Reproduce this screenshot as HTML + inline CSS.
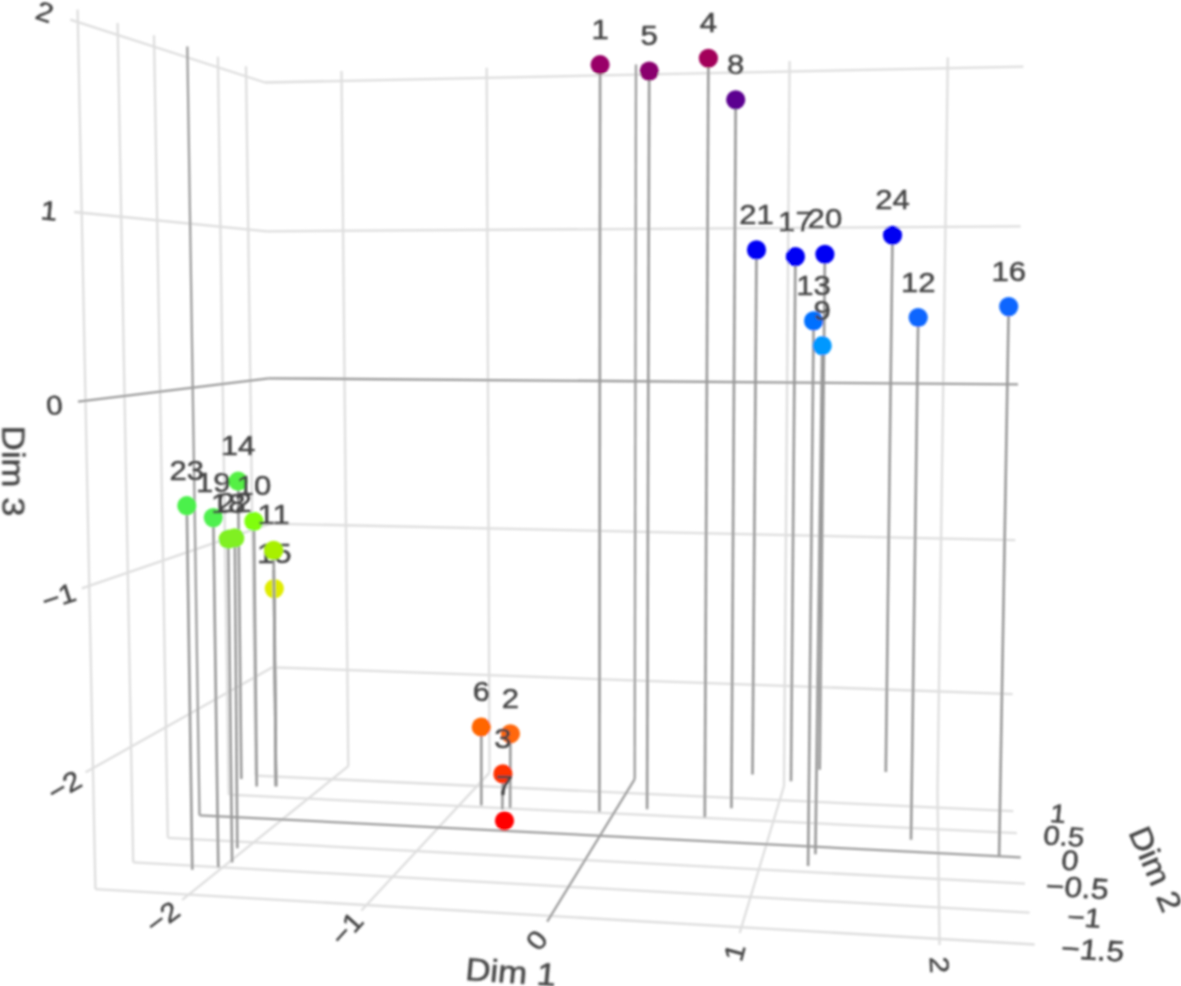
<!DOCTYPE html>
<html><head><meta charset="utf-8"><style>
html,body{margin:0;padding:0;background:#fff;overflow:hidden;}
svg{display:block;}
.g{stroke:#dedede;stroke-width:2.3;}
.z{stroke:#9c9c9c;stroke-width:2.3;}
.s{stroke:#999999;stroke-width:2.6;}
text{font-family:"Liberation Sans",sans-serif;fill:#444;stroke:#444;stroke-width:0.5;}
.lbl text{font-size:26px;text-anchor:middle;}
.tk text{text-anchor:middle;}
</style></head><body>
<svg width="1181" height="986" viewBox="0 0 1181 986">
<defs><filter id="b" x="-1%" y="-1%" width="102%" height="102%"><feGaussianBlur stdDeviation="0.85"/></filter></defs>
<rect width="1181" height="986" fill="#fff"/>
<g filter="url(#b)">
<g><line class="g" x1="95.4" y1="889.1" x2="77.6" y2="9.4"/><line class="g" x1="133.2" y1="862.3" x2="117.6" y2="22.9"/><line class="g" x1="167.8" y1="837.8" x2="154.0" y2="35.2"/><line class="g" x1="228.7" y1="794.7" x2="217.9" y2="56.8"/><line class="g" x1="255.7" y1="775.6" x2="246.0" y2="66.3"/><line class="g" x1="85.6" y1="772.3" x2="272.5" y2="667.3"/><line class="g" x1="81.8" y1="588.3" x2="270.7" y2="523.6"/><line class="g" x1="74.1" y1="212.0" x2="266.9" y2="231.3"/><line class="g" x1="70.2" y1="19.6" x2="265.0" y2="82.5"/><line class="g" x1="348.3" y1="766.2" x2="341.5" y2="71.0"/><line class="g" x1="489.5" y1="772.6" x2="486.7" y2="67.8"/><line class="g" x1="784.0" y1="786.0" x2="789.6" y2="61.1"/><line class="g" x1="937.5" y1="793.0" x2="947.8" y2="57.6"/><line class="g" x1="272.5" y1="667.3" x2="1012.7" y2="694.1"/><line class="g" x1="270.7" y1="523.6" x2="1015.3" y2="540.2"/><line class="g" x1="266.9" y1="231.3" x2="1020.7" y2="226.4"/><line class="g" x1="265.0" y1="82.5" x2="1023.4" y2="66.6"/><line class="g" x1="182.2" y1="899.8" x2="348.3" y2="766.2"/><line class="g" x1="361.4" y1="910.5" x2="489.5" y2="772.6"/><line class="g" x1="739.7" y1="933.0" x2="784.0" y2="786.0"/><line class="g" x1="939.5" y1="944.9" x2="937.5" y2="793.0"/><line class="g" x1="95.4" y1="889.1" x2="1034.7" y2="944.5"/><line class="g" x1="133.2" y1="862.3" x2="1029.6" y2="912.6"/><line class="g" x1="167.8" y1="837.8" x2="1025.0" y2="883.6"/><line class="g" x1="228.7" y1="794.7" x2="1016.9" y2="833.2"/><line class="g" x1="255.7" y1="775.6" x2="1013.3" y2="811.1"/></g>
<g><line class="z" x1="199.5" y1="815.3" x2="187.3" y2="46.5"/><line class="z" x1="78.0" y1="401.6" x2="268.8" y2="378.3"/><line class="z" x1="634.7" y1="779.2" x2="636.0" y2="64.5"/><line class="z" x1="268.8" y1="378.3" x2="1018.0" y2="384.3"/><line class="z" x1="547.2" y1="921.6" x2="634.7" y2="779.2"/><line class="z" x1="199.5" y1="815.3" x2="1020.7" y2="857.3"/></g>
<g><line class="s" x1="600.1" y1="64.7" x2="599.4" y2="811.8"/><line class="s" x1="649.2" y1="71.1" x2="647.1" y2="809.2"/><line class="s" x1="708.4" y1="58.3" x2="704.8" y2="817.3"/><line class="s" x1="735.7" y1="99.8" x2="731.4" y2="808.3"/><line class="s" x1="756.5" y1="249.9" x2="752.5" y2="774.4"/><line class="s" x1="795.4" y1="256.6" x2="791" y2="781.2"/><line class="s" x1="824.9" y1="254.3" x2="819.7" y2="769.8"/><line class="s" x1="892.5" y1="235.3" x2="885.8" y2="772"/><line class="s" x1="813.6" y1="320.9" x2="808.1" y2="866"/><line class="s" x1="822.2" y1="345.7" x2="815.4" y2="854.3"/><line class="s" x1="918.2" y1="317.5" x2="911" y2="839.7"/><line class="s" x1="1008.7" y1="306.6" x2="999.1" y2="856.5"/><line class="s" x1="186.8" y1="505.7" x2="192.3" y2="869.7"/><line class="s" x1="213.3" y1="517.6" x2="218.3" y2="867.2"/><line class="s" x1="238.1" y1="481.2" x2="241.3" y2="779"/><line class="s" x1="228.2" y1="539.2" x2="232.1" y2="862.4"/><line class="s" x1="234.8" y1="537.9" x2="237.3" y2="848.3"/><line class="s" x1="253.9" y1="521.4" x2="256.7" y2="786.4"/><line class="s" x1="273.6" y1="550.4" x2="276" y2="786.2"/><line class="s" x1="274.3" y1="588.6" x2="276" y2="786.2"/><line class="s" x1="481.3" y1="727" x2="481.3" y2="805.5"/><line class="s" x1="510.4" y1="733.8" x2="510.1" y2="808.1"/><line class="s" x1="502.9" y1="773.9" x2="502.3" y2="809.4"/><line class="s" x1="504.5" y1="820.8" x2="504.6" y2="823"/></g>
<g class="tk"><text transform="translate(274.3,552.9) rotate(0) skewX(0) scale(1.13,1)" x="0" y="9.76" style="font-size:27.5px">15</text></g>
<g><circle cx="600.1" cy="64.7" r="9.6" fill="#990068"/><circle cx="649.2" cy="71.1" r="9.6" fill="#8a006e"/><circle cx="708.4" cy="58.3" r="9.6" fill="#a3005a"/><circle cx="735.7" cy="99.8" r="9.6" fill="#5c0090"/><circle cx="756.5" cy="249.9" r="9.6" fill="#0004f4"/><circle cx="795.4" cy="256.6" r="9.6" fill="#0004f4"/><circle cx="824.9" cy="254.3" r="9.6" fill="#0004f4"/><circle cx="892.5" cy="235.3" r="9.6" fill="#0004f2"/><circle cx="813.6" cy="320.9" r="9.6" fill="#0070ff"/><circle cx="822.2" cy="345.7" r="9.6" fill="#0098ff"/><circle cx="918.2" cy="317.5" r="9.6" fill="#0a66ff"/><circle cx="1008.7" cy="306.6" r="9.6" fill="#0a66ff"/><circle cx="186.8" cy="505.7" r="9.6" fill="#4cf04c"/><circle cx="213.3" cy="517.6" r="9.6" fill="#50f050"/><circle cx="238.1" cy="481.2" r="9.6" fill="#55f045"/><circle cx="228.2" cy="539.2" r="9.6" fill="#80f020"/><circle cx="234.8" cy="537.9" r="9.6" fill="#80f020"/><circle cx="253.9" cy="521.4" r="9.6" fill="#80ff10"/><circle cx="274.3" cy="588.6" r="9.6" fill="#e0ec00"/><circle cx="273.6" cy="550.4" r="9.6" fill="#a8f000"/><circle cx="481.3" cy="727" r="9.6" fill="#ff6600"/><circle cx="510.4" cy="733.8" r="9.6" fill="#ff6808"/><circle cx="502.9" cy="773.9" r="9.6" fill="#ff3300"/><circle cx="504.5" cy="820.8" r="9.6" fill="#ff0000"/></g>
<g><line class="s" x1="273.8" y1="570" x2="276" y2="786.2"/></g>
<g class="tk"><text transform="translate(600.1,29.0) rotate(0) skewX(0) scale(1.13,1)" x="0" y="9.76" style="font-size:27.5px">1</text><text transform="translate(649.2,35.39999999999999) rotate(0) skewX(0) scale(1.13,1)" x="0" y="9.76" style="font-size:27.5px">5</text><text transform="translate(708.4,22.599999999999994) rotate(0) skewX(0) scale(1.13,1)" x="0" y="9.76" style="font-size:27.5px">4</text><text transform="translate(735.7,64.1) rotate(0) skewX(0) scale(1.13,1)" x="0" y="9.76" style="font-size:27.5px">8</text><text transform="translate(756.5,214.2) rotate(0) skewX(0) scale(1.13,1)" x="0" y="9.76" style="font-size:27.5px">21</text><text transform="translate(795.4,220.90000000000003) rotate(0) skewX(0) scale(1.13,1)" x="0" y="9.76" style="font-size:27.5px">17</text><text transform="translate(824.9,218.60000000000002) rotate(0) skewX(0) scale(1.13,1)" x="0" y="9.76" style="font-size:27.5px">20</text><text transform="translate(892.5,199.60000000000002) rotate(0) skewX(0) scale(1.13,1)" x="0" y="9.76" style="font-size:27.5px">24</text><text transform="translate(813.6,285.2) rotate(0) skewX(0) scale(1.13,1)" x="0" y="9.76" style="font-size:27.5px">13</text><text transform="translate(822.2,310.0) rotate(0) skewX(0) scale(1.13,1)" x="0" y="9.76" style="font-size:27.5px">9</text><text transform="translate(918.2,281.8) rotate(0) skewX(0) scale(1.13,1)" x="0" y="9.76" style="font-size:27.5px">12</text><text transform="translate(1008.7,270.90000000000003) rotate(0) skewX(0) scale(1.13,1)" x="0" y="9.76" style="font-size:27.5px">16</text><text transform="translate(186.8,470.0) rotate(0) skewX(0) scale(1.13,1)" x="0" y="9.76" style="font-size:27.5px">23</text><text transform="translate(213.3,481.90000000000003) rotate(0) skewX(0) scale(1.13,1)" x="0" y="9.76" style="font-size:27.5px">19</text><text transform="translate(238.1,445.5) rotate(0) skewX(0) scale(1.13,1)" x="0" y="9.76" style="font-size:27.5px">14</text><text transform="translate(228.2,503.50000000000006) rotate(0) skewX(0) scale(1.13,1)" x="0" y="9.76" style="font-size:27.5px">18</text><text transform="translate(234.8,502.2) rotate(0) skewX(0) scale(1.13,1)" x="0" y="9.76" style="font-size:27.5px">22</text><text transform="translate(253.9,485.7) rotate(0) skewX(0) scale(1.13,1)" x="0" y="9.76" style="font-size:27.5px">10</text><text transform="translate(273.6,514.6999999999999) rotate(0) skewX(0) scale(1.13,1)" x="0" y="9.76" style="font-size:27.5px">11</text><text transform="translate(481.3,691.3) rotate(0) skewX(0) scale(1.13,1)" x="0" y="9.76" style="font-size:27.5px">6</text><text transform="translate(510.4,698.0999999999999) rotate(0) skewX(0) scale(1.13,1)" x="0" y="9.76" style="font-size:27.5px">2</text><text transform="translate(502.9,738.1999999999999) rotate(0) skewX(0) scale(1.13,1)" x="0" y="9.76" style="font-size:27.5px">3</text><text transform="translate(504.5,785.0999999999999) rotate(0) skewX(0) scale(1.13,1)" x="0" y="9.76" style="font-size:27.5px">7</text></g>
<g class="tk"><text transform="translate(44.8,11.7) rotate(18) skewX(0) scale(1.1,1)" x="0" y="9.58" style="font-size:27px">2</text><text transform="translate(49.0,210.4) rotate(5) skewX(0) scale(1.1,1)" x="0" y="9.58" style="font-size:27px">1</text><text transform="translate(54.3,405.0) rotate(-5) skewX(0) scale(1.1,1)" x="0" y="9.58" style="font-size:27px">0</text><text transform="translate(58.7,596.3) rotate(-18) skewX(0) scale(1.1,1)" x="0" y="9.58" style="font-size:27px">−1</text><text transform="translate(64.4,785.7) rotate(-30) skewX(0) scale(1.1,1)" x="0" y="9.58" style="font-size:27px">−2</text><text transform="translate(162.6,917.1) rotate(-37) skewX(0) scale(1.1,1)" x="0" y="9.58" style="font-size:27px">−2</text><text transform="translate(346.6,928.5) rotate(-48) skewX(0) scale(1.1,1)" x="0" y="9.58" style="font-size:27px">−1</text><text transform="translate(536.5,940.1) rotate(-52) skewX(0) scale(1.1,1)" x="0" y="9.58" style="font-size:27px">0</text><text transform="translate(734.5,952.3) rotate(-75) skewX(0) scale(1.1,1)" x="0" y="9.58" style="font-size:27px">1</text><text transform="translate(939.7,964.9) rotate(88) skewX(0) scale(1.1,1)" x="0" y="9.58" style="font-size:27px">2</text><text transform="translate(1058.2,813.4) rotate(3.5) skewX(-2.5) scale(1.1,1)" x="0" y="9.23" style="font-size:26px">1</text><text transform="translate(1064.0,836.0) rotate(3.5) skewX(-2.5) scale(1.1,1)" x="0" y="9.58" style="font-size:27px">0.5</text><text transform="translate(1070.0,860.0) rotate(3.5) skewX(-2.5) scale(1.1,1)" x="0" y="9.94" style="font-size:28px">0</text><text transform="translate(1077.3,887.1) rotate(3.5) skewX(-2.5) scale(1.1,1)" x="0" y="10.29" style="font-size:29px">−0.5</text><text transform="translate(1084.3,917.2) rotate(3.5) skewX(-2.5) scale(1.1,1)" x="0" y="9.58" style="font-size:27px">−1</text><text transform="translate(1092.8,949.5) rotate(3.5) skewX(-2.5) scale(1.1,1)" x="0" y="10.29" style="font-size:29px">−1.5</text></g>
<g class="tk"><text transform="translate(13.4,471.1) rotate(90) skewX(0) scale(1.12,1)" x="0" y="11.00" style="font-size:31px">Dim 3</text><text transform="translate(1155.9,868.9) rotate(67) skewX(0) scale(1.1,1)" x="0" y="11.00" style="font-size:31px">Dim 2</text><text transform="translate(511.0,972.0) rotate(3.8) skewX(-1.5) scale(1.09,1)" x="0" y="11.36" style="font-size:32px">Dim 1</text></g>
</g>
</svg></body></html>
